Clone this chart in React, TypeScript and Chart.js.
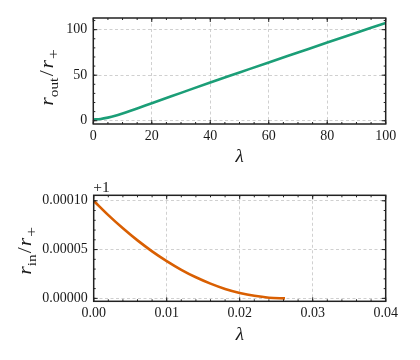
import React, { useEffect, useRef } from 'react';
import { Chart, registerables } from 'chart.js';

Chart.register(...registerables);

// ---------- data ----------
const lambdaOut = [0, 2.5, 5, 7.5, 10, 12.5, 15, 20, 30, 40, 50, 60, 70, 80, 90, 100];
const rOut = [1.3, 1.9, 3.4, 5.4, 7.9, 10.6, 13.4, 19.2, 30.6, 42.0, 53.0, 64.0, 74.9, 85.8, 96.6, 107.4];

const lambdaIn = [0, 0.002, 0.004, 0.006, 0.008, 0.01, 0.012, 0.014, 0.016, 0.018, 0.02, 0.022, 0.024, 0.0262];
// r_in / r_+ minus 1 (offset "+1" shown on axis)
const rInMinusOne = [
  0.0001, 0.0000853, 0.0000718, 0.0000594, 0.0000482, 0.0000382, 0.0000293,
  0.0000216, 0.0000151, 0.0000097, 0.0000056, 0.0000026, 0.0000007, 0.0,
];

const topXTicks = [0, 20, 40, 60, 80, 100];
const topYTicks = [0, 50, 100];
const bottomXTicks = [0, 0.01, 0.02, 0.03, 0.04];
const bottomYTicks = [0, 0.00005, 0.0001];

const FONT = '"Liberation Serif", "Times New Roman", serif';
const TEXT = '#1a1a1a';
const AXIS = '#222222';
const GRID = '#c4c4c4';

type Part = { t: string; it?: boolean; sub?: boolean; gap?: number; scale?: number };

function steps(a: number, b: number, s: number): number[] {
  const out: number[] = [];
  const n = Math.round((b - a) / s);
  for (let i = 0; i <= n; i++) out.push(a + i * s);
  return out;
}

function drawMath(ctx: CanvasRenderingContext2D, parts: Part[], cx: number, cy: number, size: number, rotate: boolean) {
  const stretch = 1.15;
  ctx.save();
  ctx.translate(cx, cy);
  if (rotate) ctx.rotate(-Math.PI / 2);
  ctx.scale(stretch, 1);
  const fontFor = (p: Part) =>
    `${p.it ? 'italic ' : ''}${(p.sub ? size * (p.scale || 0.7) : size).toFixed(2)}px ${FONT}`;
  let total = 0;
  const widths = parts.map((p) => {
    ctx.font = fontFor(p);
    const w = ctx.measureText(p.t).width + (p.gap || 0) / stretch;
    total += w;
    return w;
  });
  let x = -total / 2;
  ctx.textAlign = 'left';
  ctx.textBaseline = 'alphabetic';
  ctx.fillStyle = TEXT;
  parts.forEach((p, i) => {
    ctx.font = fontFor(p);
    x += (p.gap || 0) / stretch;
    ctx.fillText(p.t, x, size * 0.3 + (p.sub ? size * 0.27 : 0));
    x += widths[i] - (p.gap || 0) / stretch;
  });
  ctx.restore();
}

interface PanelOpts {
  xMinor: number[];
  yMinor: number[];
  xMajor: number[];
  yMajor: number[];
  yTitle: Part[];
  yTitlePos: [number, number];
  xTitlePos: [number, number];
  offsetText?: { t: string; x: number; y: number };
}

function framePlugin(o: PanelOpts) {
  return {
    id: 'frameTicks',
    afterDraw(chart: any) {
      const { ctx, chartArea: a, scales } = chart;
      const xs = scales.x;
      const ys = scales.y;
      ctx.save();
      ctx.strokeStyle = AXIS;
      ctx.lineWidth = 1;
      const vt = (v: number, len: number) => {
        const px = xs.getPixelForValue(v);
        ctx.beginPath();
        ctx.moveTo(px, a.bottom);
        ctx.lineTo(px, a.bottom - len);
        ctx.moveTo(px, a.top);
        ctx.lineTo(px, a.top + len);
        ctx.stroke();
      };
      const ht = (v: number, len: number) => {
        const py = ys.getPixelForValue(v);
        ctx.beginPath();
        ctx.moveTo(a.left, py);
        ctx.lineTo(a.left + len, py);
        ctx.moveTo(a.right, py);
        ctx.lineTo(a.right - len, py);
        ctx.stroke();
      };
      o.xMinor.forEach((v) => vt(v, 2));
      o.yMinor.forEach((v) => ht(v, 2));
      o.xMajor.forEach((v) => vt(v, 4));
      o.yMajor.forEach((v) => ht(v, 4));
      ctx.lineWidth = 1.5;
      ctx.strokeRect(a.left, a.top, a.right - a.left, a.bottom - a.top);

      // y title
      drawMath(ctx, o.yTitle, o.yTitlePos[0], o.yTitlePos[1], 19, true);
      // x title
      ctx.font = `italic 19px ${FONT}`;
      ctx.fillStyle = TEXT;
      ctx.textAlign = 'center';
      ctx.textBaseline = 'alphabetic';
      ctx.fillText('λ', o.xTitlePos[0], o.xTitlePos[1]);
      if (o.offsetText) {
        ctx.font = `15.5px ${FONT}`;
        ctx.textAlign = 'left';
        ctx.fillText(o.offsetText.t, o.offsetText.x, o.offsetText.y);
      }
      ctx.restore();
    },
  };
}

function makeConfig(p: {
  xs: number[];
  ys: number[];
  color: string;
  xMin: number;
  xMax: number;
  yMin: number;
  yMax: number;
  xTicks: number[];
  yTicks: number[];
  xFmt: (v: number) => string;
  yFmt: (v: number) => string;
  padTop: number;
  padRight: number;
  yW: number;
  xH: number;
  plugin: any;
}): any {
  const tickFont = { family: FONT, size: 14 };
  return {
    type: 'line',
    data: {
      datasets: [
        {
          data: p.xs.map((x, i) => ({ x, y: p.ys[i] })),
          borderColor: p.color,
          borderWidth: 2.6,
          pointRadius: 0,
          fill: false,
          cubicInterpolationMode: 'monotone',
          borderCapStyle: 'butt',
        },
      ],
    },
    options: {
      responsive: false,
      animation: false,
      events: [],
      layout: { padding: { top: p.padTop, right: p.padRight, left: 0, bottom: 0 } },
      plugins: { legend: { display: false }, tooltip: { enabled: false } },
      scales: {
        x: {
          type: 'linear',
          min: p.xMin,
          max: p.xMax,
          afterBuildTicks: (s: any) => {
            s.ticks = p.xTicks.map((v) => ({ value: v }));
          },
          afterFit: (s: any) => {
            s.height = p.xH;
          },
          ticks: {
            font: tickFont,
            color: TEXT,
            padding: 3.5,
            maxRotation: 0,
            minRotation: 0,
            autoSkip: false,
            callback: (v: any) => p.xFmt(Number(v)),
          },
          grid: { color: GRID, lineWidth: 0.8, drawTicks: false },
          border: { display: false, dash: [3, 2.5] },
        },
        y: {
          type: 'linear',
          min: p.yMin,
          max: p.yMax,
          afterBuildTicks: (s: any) => {
            s.ticks = p.yTicks.map((v) => ({ value: v }));
          },
          afterFit: (s: any) => {
            s.width = p.yW;
          },
          ticks: {
            font: tickFont,
            color: TEXT,
            padding: 6,
            autoSkip: false,
            callback: (v: any) => p.yFmt(Number(v)),
          },
          grid: { color: GRID, lineWidth: 0.8, drawTicks: false },
          border: { display: false, dash: [3, 2.5] },
        },
      },
    },
    plugins: [p.plugin],
  };
}

export default function App() {
  const topRef = useRef<HTMLCanvasElement | null>(null);
  const botRef = useRef<HTMLCanvasElement | null>(null);

  useEffect(() => {
    const top = new Chart(
      topRef.current as HTMLCanvasElement,
      makeConfig({
        xs: lambdaOut,
        ys: rOut,
        color: '#1b9e77',
        xMin: 0,
        xMax: 100,
        yMin: -3.6,
        yMax: 112.8,
        xTicks: topXTicks,
        yTicks: topYTicks,
        xFmt: (v) => String(Math.round(v)),
        yFmt: (v) => String(Math.round(v)),
        padTop: 18,
        padRight: 34.3,
        yW: 93.3,
        xH: 56,
        plugin: framePlugin({
          xMinor: steps(0, 100, 5),
          yMinor: steps(0, 110, 10),
          xMajor: topXTicks,
          yMajor: topYTicks,
          yTitle: [
            { t: 'r', it: true },
            { t: 'out', sub: true },
            { t: '/', gap: 1.5 },
            { t: 'r', it: true, gap: 1.5 },
            { t: '+', sub: true, scale: 0.8, gap: 1 },
          ],
          yTitlePos: [47.6, 77.5],
          xTitlePos: [239.5, 161.7],
        }),
      })
    );
    const bot = new Chart(
      botRef.current as HTMLCanvasElement,
      makeConfig({
        xs: lambdaIn,
        ys: rInMinusOne,
        color: '#d95f02',
        xMin: 0,
        xMax: 0.04,
        yMin: -0.000003,
        yMax: 0.0001056,
        xTicks: bottomXTicks,
        yTicks: bottomYTicks,
        xFmt: (v) => v.toFixed(2),
        yFmt: (v) => v.toFixed(5),
        padTop: 15.3,
        padRight: 34.3,
        yW: 93.7,
        xH: 58.7,
        plugin: framePlugin({
          xMinor: steps(0, 0.04, 0.002),
          yMinor: steps(0, 0.0001, 0.00001),
          xMajor: bottomXTicks,
          yMajor: bottomYTicks,
          yTitle: [
            { t: 'r', it: true },
            { t: 'in', sub: true },
            { t: '/', gap: 1 },
            { t: 'r', it: true, gap: 1 },
            { t: '+', sub: true, scale: 0.8, gap: 1 },
          ],
          yTitlePos: [25, 70.8],
          xTitlePos: [239.8, 160],
          offsetText: { t: '+1', x: 93.3, y: 11.9 },
        }),
      })
    );
    return () => {
      top.destroy();
      bot.destroy();
    };
  }, []);

  return (
    <div style={{ position: 'absolute', left: 0, top: 0, width: 420, height: 360, background: '#fff' }}>
      <canvas ref={topRef} width={420} height={180} style={{ display: 'block', width: 420, height: 180 }} />
      <canvas ref={botRef} width={420} height={180} style={{ display: 'block', width: 420, height: 180 }} />
    </div>
  );
}
